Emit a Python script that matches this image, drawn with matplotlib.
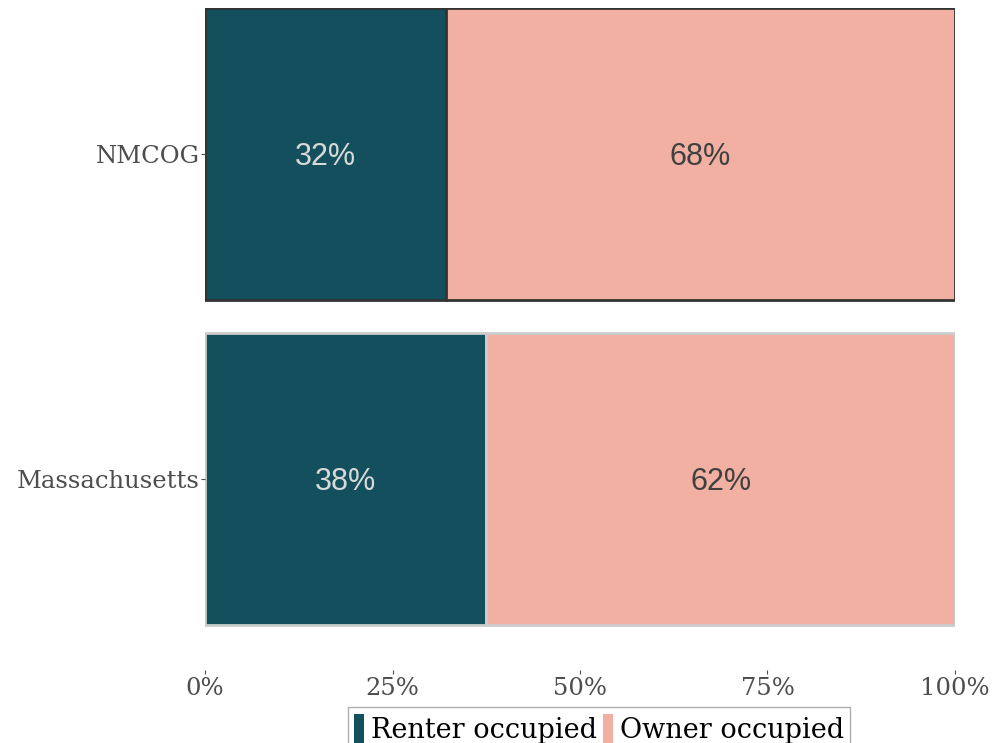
import matplotlib.pyplot as plt
from matplotlib.patches import Patch

# data
regions = ['NMCOG', 'Massachusetts']
renter = [0.321, 0.375]
owner = [0.679, 0.625]
edge_colors = ['#333333', '#cccccc']
x_ticks = [0, 0.25, 0.5, 0.75, 1.0]
x_labels = ['0%', '25%', '50%', '75%', '100%']

teal = '#134f5c'
salmon = '#f2b0a2'

plt.rcParams['font.family'] = ['DejaVu Serif']

fig = plt.figure(figsize=(9.94, 7.43), dpi=100)
ax = fig.add_axes([205 / 994, 1 - 670 / 743, 750 / 994, 662 / 743])

ypos = [2, 1]
for y, r, o, ec in zip(ypos, renter, owner, edge_colors):
    ax.barh(y, r, height=0.9, color=teal, edgecolor=ec, linewidth=2)
    ax.barh(y, o, left=r, height=0.9, color=salmon, edgecolor=ec, linewidth=2)
    # percentage labels in the middle of each segment
    ax.text(r / 2, y - 0.008, f'{r * 100:.0f}%', ha='center', va='center',
            fontsize=22, color='#d9d9d9', family=['Liberation Sans'])
    ax.text(r + o / 2, y - 0.008, f'{o * 100:.0f}%', ha='center', va='center',
            fontsize=22, color='#404040', family=['Liberation Sans'])

ax.set_xlim(0, 1)
ax.set_ylim(0.413, 2.45)
ax.set_xticks(x_ticks)
ax.set_xticklabels(x_labels)
ax.set_yticks(ypos)
ax.set_yticklabels(regions)
ax.tick_params(axis='both', colors='#4d4d4d', length=3, width=0.8)
ax.tick_params(axis='x', labelsize=17.5, pad=2)
ax.tick_params(axis='y', labelsize=17.5, pad=1)
for s in ax.spines.values():
    s.set_visible(False)

handles = [Patch(facecolor=teal, edgecolor='none'), Patch(facecolor=salmon, edgecolor='none')]
fig.legend(handles, ['Renter occupied', 'Owner occupied'], loc='upper center',
           bbox_to_anchor=(0.6026, 1 - 707 / 743), ncol=2, fontsize=19.5,
           frameon=True, fancybox=False, edgecolor='#999999', handlelength=0.35,
           handleheight=1.4, handletextpad=0.25, columnspacing=0.25, borderpad=0.25,
           borderaxespad=0)

fig.savefig('out.png', dpi=100)
